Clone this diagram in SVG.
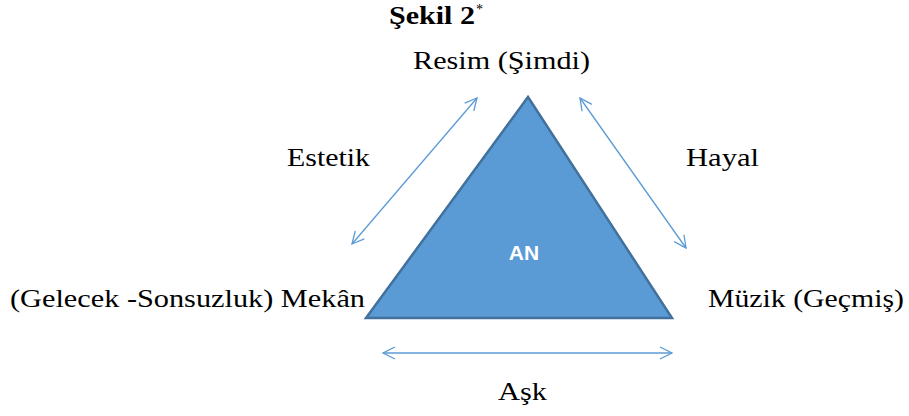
<svg xmlns="http://www.w3.org/2000/svg" width="909" height="416" viewBox="0 0 909 416">
<style>
.t{font-family:"Liberation Serif","DejaVu Serif",serif;font-size:26px;fill:#000}
.c{stroke:#5B9BD5;stroke-width:1.3;fill:none}
</style>
<defs>
<marker id="ah" viewBox="0 0 14 14" refX="13" refY="7" markerWidth="14" markerHeight="14" markerUnits="userSpaceOnUse" orient="auto-start-reverse">
<path d="M1,1 L13,7 L1,13" fill="none" stroke="#5B9BD5" stroke-width="1.3"/>
</marker>
</defs>
<rect width="909" height="416" fill="#fff"/>
<g id="title"><text x="389" y="24" font-family="'Liberation Serif',serif" font-weight="bold" font-size="26" textLength="86" lengthAdjust="spacingAndGlyphs">Şekil 2</text><text x="476" y="14" font-family="'Liberation Serif',serif" font-size="14">*</text></g>
<g id="an">
<polygon points="528,97 672,318 366,318" fill="#5B9BD5" stroke="#41719C" stroke-width="2.5" stroke-linejoin="miter"/>
<text x="524" y="260" font-family="'Liberation Sans',Arial,sans-serif" font-weight="bold" font-size="21" fill="#fff" text-anchor="middle">AN</text>
</g>
<g id="resim"><text class="t" x="413" y="69" textLength="177" lengthAdjust="spacingAndGlyphs">Resim (Şimdi)</text></g>
<g id="mekan"><text class="t" x="10" y="307" textLength="355" lengthAdjust="spacingAndGlyphs">(Gelecek -Sonsuzluk) Mekân</text></g>
<g id="muzik"><text class="t" x="708" y="307" textLength="196" lengthAdjust="spacingAndGlyphs">Müzik (Geçmiş)</text></g>
<g id="connectors">
<line class="c" x1="352" y1="244" x2="477" y2="98" marker-start="url(#ah)" marker-end="url(#ah)"/>
<line class="c" x1="580" y1="98" x2="686" y2="248" marker-start="url(#ah)" marker-end="url(#ah)"/>
<line class="c" x1="383" y1="353" x2="672" y2="353" marker-start="url(#ah)" marker-end="url(#ah)"/>
<text class="t" x="287" y="166" textLength="83" lengthAdjust="spacingAndGlyphs">Estetik</text>
<text class="t" x="686" y="166" textLength="73" lengthAdjust="spacingAndGlyphs">Hayal</text>
<text class="t" x="498" y="400" textLength="49" lengthAdjust="spacingAndGlyphs">Aşk</text>
</g>
</svg>
